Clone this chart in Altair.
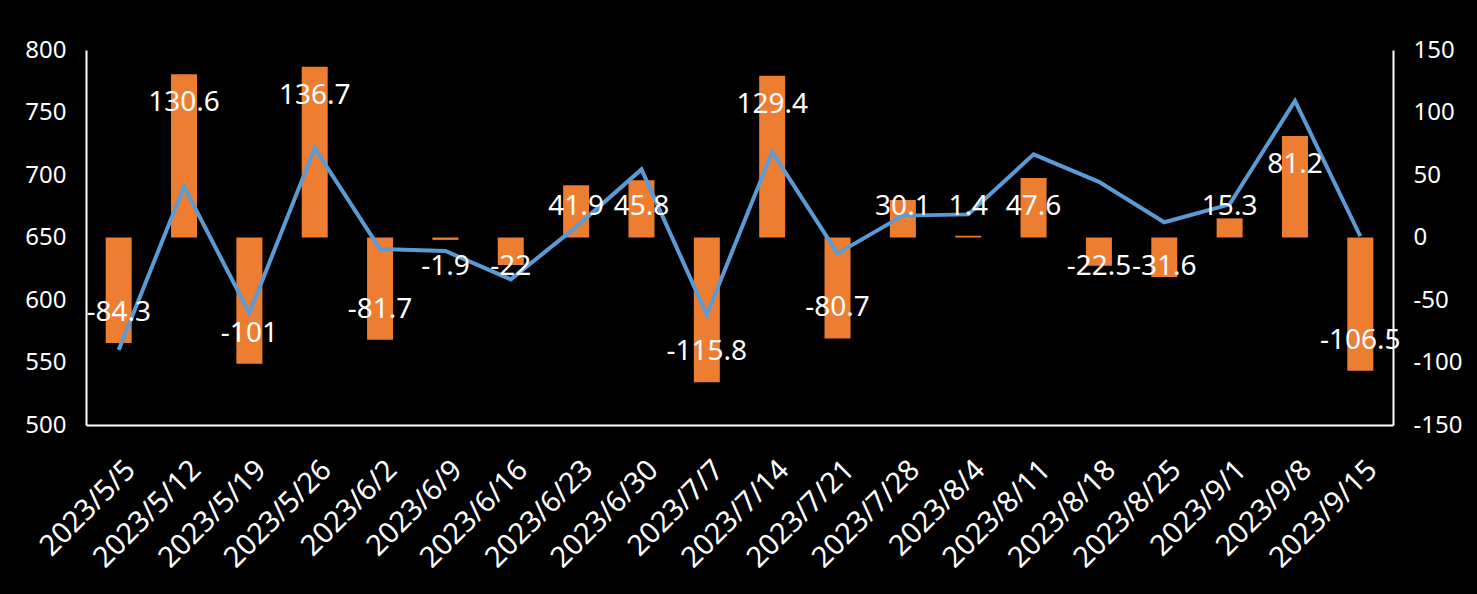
import altair as alt
import pandas as pd

dates = ["2023/5/5", "2023/5/12", "2023/5/19", "2023/5/26", "2023/6/2", "2023/6/9",
         "2023/6/16", "2023/6/23", "2023/6/30", "2023/7/7", "2023/7/14", "2023/7/21",
         "2023/7/28", "2023/8/4", "2023/8/11", "2023/8/18", "2023/8/25", "2023/9/1",
         "2023/9/8", "2023/9/15"]
change = [-84.3, 130.6, -101, 136.7, -81.7, -1.9, -22, 41.9, 45.8, -115.8,
          129.4, -80.7, 30.1, 1.4, 47.6, -22.5, -31.6, 15.3, 81.2, -106.5]
level = [560, 690.7, 589.5, 721.5, 640.8, 639.2, 616.5, 658.5, 704.5, 588.2,
         718.5, 637.3, 667.5, 668.5, 716.5, 694.5, 662.2, 676.5, 759.3, 651]
left_ticks = [500, 550, 600, 650, 700, 750, 800]
right_ticks = [-150, -100, -50, 0, 50, 100, 150]

df = pd.DataFrame({
    "date": dates,
    "change": change,
    "level": level,
    "label": [f"{v:g}" for v in change],
})

FONT = "Noto Sans"
WHITE = "#FFFFFF"

x_enc = alt.X(
    "date:N", sort=dates, title=None,
    scale=alt.Scale(paddingInner=0, paddingOuter=0),
    axis=alt.Axis(labelAngle=-45, labelAlign="right", labelBaseline="middle",
                  labelFontSize=29, labelColor=WHITE, labelFont=FONT,
                  labelPadding=40, labelOffset=12, ticks=False, tickSize=0,
                  domainColor=WHITE, domainWidth=2, grid=False, labelOverlap=False),
)

bars = alt.Chart(df).mark_bar(size=26, color="#ED7D31").encode(
    x=x_enc,
    y=alt.Y("change:Q", title=None,
            scale=alt.Scale(domain=[-150, 150], nice=False, zero=False),
            axis=alt.Axis(orient="right", values=right_ticks, labelFontSize=24,
                          labelColor=WHITE, labelFont=FONT, labelPadding=20,
                          ticks=False, tickSize=0, domainColor=WHITE, domainWidth=2,
                          grid=False, labelExpr="'' + datum.value")),
    y2=alt.datum(0),
)

line = alt.Chart(df).mark_line(color="#5B9BD5", strokeWidth=4).encode(
    x=x_enc,
    y=alt.Y("level:Q", title=None,
            scale=alt.Scale(domain=[500, 800], nice=False, zero=False),
            axis=alt.Axis(orient="left", values=left_ticks, labelFontSize=24,
                          labelColor=WHITE, labelFont=FONT, labelPadding=20,
                          ticks=False, tickSize=0, domainColor=WHITE, domainWidth=2,
                          grid=False, labelExpr="'' + datum.value")),
)

text = alt.Chart(df).transform_calculate(
    ly="datum.change > 0 ? max(datum.change - 23.2, 24.8) : min(datum.change + 24, -23.6)"
).mark_text(fontSize=28, color=WHITE, font=FONT, align="center", baseline="middle").encode(
    x=x_enc,
    y=alt.Y("ly:Q", scale=alt.Scale(domain=[-150, 150], nice=False, zero=False), axis=None),
    text="label:N",
)

chart = alt.layer(bars, line, text).resolve_scale(y="independent").properties(
    width=1307, height=375,
    autosize=alt.AutoSizeParams(type="none"),
    padding={"left": 86, "top": 50, "right": 84, "bottom": 169},
    background="#000000",
).configure_view(stroke=None)

chart.save("out.html", embed_options={"renderer": "svg", "actions": False})
